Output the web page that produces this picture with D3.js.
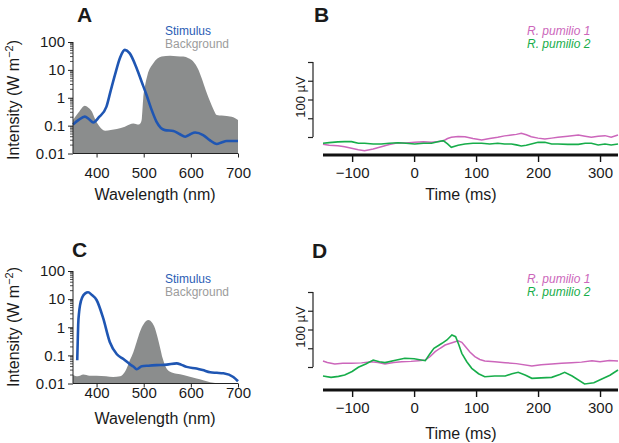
<!DOCTYPE html>
<html><head><meta charset="utf-8">
<script src="https://cdn.jsdelivr.net/npm/d3@7"></script>
<style>body{margin:0;background:#fff}svg{display:block;font-family:"Liberation Sans",Arial,sans-serif}</style>
</head><body><svg id="c" width="619" height="443"></svg>
<script>
// ---- Data ----
const wlTicks = [400, 500, 600, 700];
const intTicks = [0.01, 0.1, 1, 10, 100];
const intTickLabels = ["0.01", "0.1", "1", "10", "100"];
const timeTicks = [-100, 0, 100, 200, 300];
const timeTickLabels = ["\u2212100", "0", "100", "200", "300"];

// Panel A
const aStimWl  = [350,362,375,384,393,405,421,430,439,450,460,470,485,496,506,516,527,545,563,576,588,598,609,626,640,655,665,676,700];
const aStimInt = [0.11,0.16,0.21,0.17,0.13,0.2,0.48,1.8,6.6,28,52,40,11.5,3.6,1.25,0.4,0.14,0.069,0.064,0.05,0.040,0.048,0.057,0.046,0.03,0.022,0.025,0.028,0.028];
const aBgWl  = [350,362,375,382,390,397,404,418,430,443,460,470,478,489,494,496,499,503,508,520,538,556,570,584,595,605,615,623,632,641,648,655,676,690,700];
const aBgInt = [0.16,0.3,0.52,0.45,0.32,0.17,0.105,0.066,0.07,0.076,0.092,0.11,0.12,0.11,0.13,0.18,0.95,2.8,6.6,17,30,32,31,30,26,20,11,5,1.8,0.72,0.38,0.24,0.22,0.2,0.16];
// Panel C
const cStimWl  = [359,360,361,363,365,370,376,382,390,400,414,428,443,457,471,478,485,496,510,527,549,570,580,591,612,625,641,655,669,690,700];
const cStimInt = [0.067,0.3,1.2,3.5,6.2,12,16,17.5,14,9.3,2.1,0.30,0.11,0.074,0.048,0.04,0.032,0.041,0.043,0.045,0.047,0.052,0.046,0.039,0.034,0.03,0.025,0.024,0.023,0.017,0.012];
const cBgWl  = [350,360,372,385,400,420,435,450,457,464,471,478,485,492,500,510,517,524,530,535,540,545,556,570,584,600,612,626,641,655,700];
const cBgInt = [0.020,0.018,0.021,0.019,0.019,0.018,0.017,0.018,0.022,0.035,0.07,0.13,0.3,0.69,1.3,1.8,1.5,0.91,0.4,0.18,0.08,0.045,0.026,0.022,0.020,0.017,0.015,0.013,0.011,0.0102,0.01];
// Panel B (µV)
const bTime  = [-150,-137,-123,-112,-101,-90,-80,-66,-53,-40,-26,-13,1,15,28,40,47,54,60,71,82,95,109,122,135,146,157,165,173,181,189,200,211,222,232,248,265,276,286,297,308,318,329];
const bPum1  = [-9.8,-11,-11.6,-13,-15,-17,-18.2,-16,-12.9,-10,-7.6,-8,-7.1,-6.5,-7.1,-6,-5.3,-2,-0.4,0.8,0.4,-2,-4,-2,-0.4,1.5,2.7,3.5,4.9,3,0.4,-1.5,-2.7,-1.5,-0.4,1,2.7,1,-0.4,1,1.8,-0.4,2.7];
const bPum2  = [-8.4,-7.5,-6.5,-6.2,-6.2,-8.4,-8.4,-9.3,-9.3,-8.4,-7.6,-8.4,-9.3,-8.4,-8.4,-6,-4.9,-9.3,-13.8,-11,-9.3,-8.4,-8.4,-9.3,-8.4,-9.3,-9.3,-10.5,-12,-11,-9.3,-7.1,-7.1,-9.3,-9.3,-9.8,-9.8,-8.4,-8.4,-10.7,-9.3,-10.7,-9.3];
// Panel D (µV)
const dTime  = [-150,-140,-128,-115,-101,-85,-69,-58,-47,-33,-20,-5,7,18,26,34,42,50,60,71,77,82,90,98,106,114,130,147,165,190,205,222,238,254,270,287,300,315,329];
const dPum1  = [8,6,4,5,4.9,5.5,7.1,6,4,6,7.1,7.5,8.4,9.3,14,20.4,25,29.3,32,35,33,28,20,13.8,10,8,7,5.8,4.5,1.3,3,4,5,5.8,6.5,8.4,7,8.5,8];
const dTime2 = [-150,-134,-122,-112,-100,-90,-78,-66,-56,-47,-30,-15,0,18,25,32,40,45,53,61,67,72,77,85,93,104,114,130,147,158,168,180,190,205,222,235,243,255,275,290,302,316,329];
const dPum2  = [-12,-13.8,-12.5,-10.7,-6,-0.4,4,9.3,7,5.8,9,11.6,11,8.4,17,24.9,29,31.6,36,42.7,40.4,30,18.2,7,-1.8,-9,-12.9,-12,-12,-9,-7.1,-11,-15.1,-14.5,-13.8,-10,-7.1,-12,-22.7,-21,-16.4,-11,-4];

// ---- Colors ----
const blue = "#1f56b3", gray = "#8b8d8d", pink = "#cc66bb", green = "#17ad4a";

const svg = d3.select("#c");

function spectrumPanel(o) {
  const x = d3.scaleLinear().domain([350, 700]).range([73, 238]);
  const y = d3.scaleLog().domain([0.01, 100]).range([o.y0, o.y1]).clamp(true);
  const g = svg.append("g");
  const bg = o.bgWl.map((w, i) => [w, o.bgInt[i]]);
  g.append("path").datum(bg)
    .attr("fill", gray)
    .attr("d", d3.area().x(d => x(d[0])).y0(y(0.01)).y1(d => y(d[1])).curve(d3.curveMonotoneX));
  const st = o.stWl.map((w, i) => [w, o.stInt[i]]);
  g.append("path").datum(st)
    .attr("fill", "none").attr("stroke", blue).attr("stroke-width", 2.6).attr("stroke-linejoin", "round")
    .attr("d", d3.line().x(d => x(d[0])).y(d => y(d[1])).curve(d3.curveMonotoneX));
  // y axis
  const ya = g.append("g").attr("transform", "translate(73,0)")
    .call(d3.axisLeft(y).tickValues(intTicks).tickFormat((d, i) => intTickLabels[i]).tickSize(5).tickPadding(3));
  const minors = [];
  [0.01, 0.1, 1, 10].forEach(b => { for (let k = 2; k <= 9; k++) minors.push(b * k); });
  g.append("g").selectAll("line").data(minors).join("line")
    .attr("x1", 70).attr("x2", 73).attr("y1", d => y(d)).attr("y2", d => y(d))
    .attr("stroke", "#222").attr("stroke-width", 0.8);
  ya.select(".domain").attr("d", `M0,${o.y0}V${o.y1}`);
  // x axis
  const xa = g.append("g").attr("transform", `translate(0,${o.y0})`)
    .call(d3.axisBottom(x).tickValues(wlTicks).tickSize(4).tickPadding(o.xPad));
  xa.select(".domain").attr("d", "M73,0H238");
  [ya, xa].forEach(a => {
    a.selectAll("text").attr("font-size", 15).attr("fill", "#1a1a1a").attr("font-family", "Liberation Sans, Arial, sans-serif");
    a.selectAll("line,.domain").attr("stroke", "#222");
  });
  // labels
  g.append("text").attr("x", 155).attr("y", o.xlabY).attr("text-anchor", "middle").attr("font-size", 16).attr("fill", "#1a1a1a").text("Wavelength (nm)");
  const yl = g.append("text").attr("transform", `translate(19,${o.ylabC}) rotate(-90)`).attr("text-anchor", "middle").attr("font-size", 16).attr("fill", "#1a1a1a");
  yl.append("tspan").text("Intensity (W m");
  yl.append("tspan").attr("font-size", 11).attr("dy", -6).text("\u22122");
  yl.append("tspan").attr("dy", 6).text(")");
  g.append("text").attr("x", 165).attr("y", o.legY).attr("font-size", 12).attr("fill", "#2a5db5").text("Stimulus");
  g.append("text").attr("x", 165).attr("y", o.legY + 13).attr("font-size", 12).attr("fill", "#9c9c9c").text("Background");
  g.append("text").attr("x", o.letX).attr("y", o.letY).attr("font-size", 21).attr("font-weight", "bold").attr("fill", "#1a1a1a").text(o.letter);
}

function ergPanel(o) {
  const x = d3.scaleLinear().domain([-147, 329]).range([323, 618]);
  const y = d3.scaleLinear().domain([0, 100]).range([o.yb, o.yb - 75]);
  const g = svg.append("g");
  const xc = v => x(Math.max(-147, Math.min(329, v)));
  const line = d3.line().x(d => xc(d[0])).y(d => y(d[1]));
  g.append("path").datum(o.t1.map((t, i) => [t, o.v1[i]])).attr("fill", "none").attr("stroke", pink).attr("stroke-width", 1.5).attr("d", line);
  g.append("path").datum(o.t2.map((t, i) => [t, o.v2[i]])).attr("fill", "none").attr("stroke", green).attr("stroke-width", 1.6).attr("d", line);
  // scale bar
  const sb = g.append("g").attr("transform", "translate(313,0)")
    .call(d3.axisLeft(y).tickValues([0, 25, 50, 75, 100]).tickSize(5).tickFormat(""));
  sb.select(".domain").attr("d", `M0,${o.yb}V${o.yb - 75}`);
  sb.selectAll("line,.domain").attr("stroke", "#222").attr("stroke-width", 1.2);
  g.append("text").attr("transform", `translate(305,${o.yb - 40}) rotate(-90)`).attr("text-anchor", "middle").attr("font-size", 13).attr("fill", "#1a1a1a").text("100 \u00b5V");
  // time axis
  const xa = g.append("g").attr("transform", `translate(0,${o.xaY})`)
    .call(d3.axisBottom(x).tickValues(timeTicks).tickFormat((d, i) => timeTickLabels[i]).tickSize(7).tickPadding(5));
  xa.select(".domain").attr("d", "M323,0H618").attr("stroke-width", 3);
  xa.selectAll("line").attr("stroke-width", 1.4);
  xa.selectAll("line,.domain").attr("stroke", "#111");
  xa.selectAll("text").attr("font-size", 15).attr("fill", "#1a1a1a").attr("font-family", "Liberation Sans, Arial, sans-serif");
  g.append("text").attr("x", 461).attr("y", o.xlabY).attr("text-anchor", "middle").attr("font-size", 16).attr("fill", "#1a1a1a").text("Time (ms)");
  g.append("text").attr("x", 527).attr("y", o.legY).attr("font-size", 12).attr("font-style", "italic").attr("fill", pink).text("R. pumilio 1");
  g.append("text").attr("x", 527).attr("y", o.legY + 13).attr("font-size", 12).attr("font-style", "italic").attr("fill", green).text("R. pumilio 2");
  g.append("text").attr("x", o.letX).attr("y", o.letY).attr("font-size", 21).attr("font-weight", "bold").attr("fill", "#1a1a1a").text(o.letter);
}

spectrumPanel({stWl: aStimWl, stInt: aStimInt, bgWl: aBgWl, bgInt: aBgInt, y0: 153.5, y1: 42, xPad: 10, xlabY: 200, ylabC: 100, legY: 35, letX: 77, letY: 22, letter: "A"});
spectrumPanel({stWl: cStimWl, stInt: cStimInt, bgWl: cBgWl, bgInt: cBgInt, y0: 383.5, y1: 271, xPad: 0, xlabY: 424, ylabC: 327, legY: 283, letX: 72, letY: 257, letter: "C"});
ergPanel({t1: bTime, v1: bPum1, t2: bTime, v2: bPum2, yb: 137, xaY: 155, xlabY: 200, legY: 35, letX: 314, letY: 22, letter: "B"});
ergPanel({t1: dTime, v1: dPum1, t2: dTime2, v2: dPum2, yb: 367, xaY: 390, xlabY: 439, legY: 283, letX: 312, letY: 258, letter: "D"});
</script></body></html>
